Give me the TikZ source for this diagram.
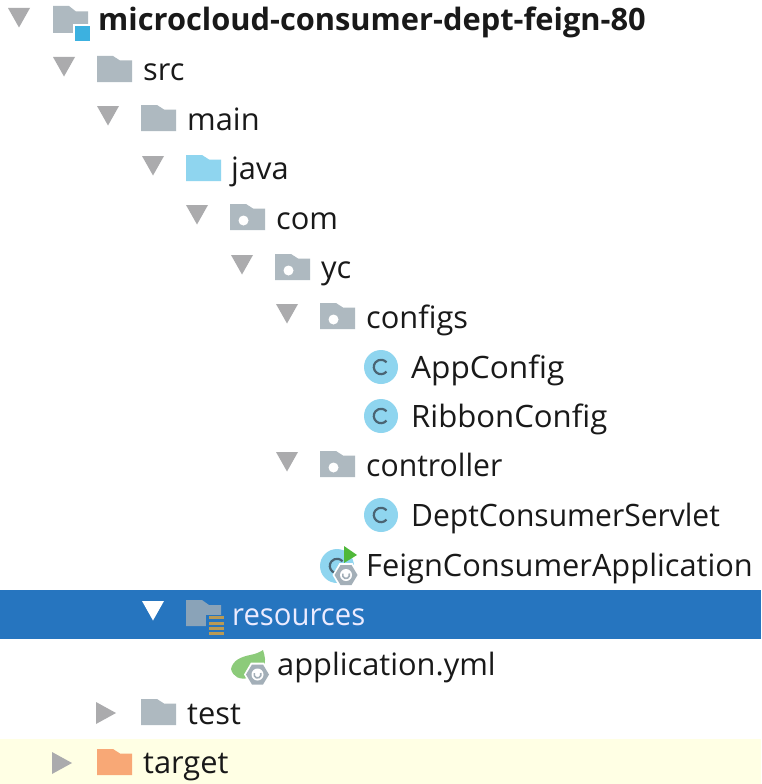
\documentclass[tikz,border=0pt]{standalone}
\usepackage{fontspec}
\setmainfont{Open Sans}
\definecolor{fgray}{HTML}{AEB9C0}
\definecolor{fblue}{HTML}{8FD5EF}
\definecolor{forange}{HTML}{F8A876}
\definecolor{ftri}{HTML}{ABABAD}
\definecolor{selband}{HTML}{2675BF}
\definecolor{hintband}{HTML}{FFFFE4}
\definecolor{roota}{HTML}{3CB1E0}
\definecolor{cdark}{HTML}{4A6473}
\definecolor{leaf}{HTML}{8CCB7A}
\definecolor{gear}{HTML}{A3AFB8}
\definecolor{playg}{HTML}{4FB83A}
\definecolor{resbar}{HTML}{B89A56}
\definecolor{selfold}{HTML}{8AA3B8}
\tikzset{
 lab/.style={anchor=base west,inner sep=0pt,yshift=-1pt,font=\fontsize{30.8pt}{36pt}\selectfont,text=black!90},
}
\newcommand{\sx}[2]{\scalebox{#1}[1]{#2}}
% #1 x left, #2 row centre, #3 colour
\newcommand{\fold}[3]{\fill[#3] (#1,#2-14) -- (#1+16,#2-14) -- (#1+23,#2-9.5) -- (#1+35,#2-9.5) -- (#1+35,#2+12) -- (#1,#2+12) -- cycle;}
\newcommand{\pkg}[2]{\fold{#1}{#2}{fgray}\fill[white] (#1+13.5,#2+2.5) circle (5);}
\newcommand{\tdown}[3][ftri]{\fill[#1] (#2-11,#3-13) -- (#2+11,#3-13) -- (#2,#3+6.5) -- cycle;}
\newcommand{\tright}[2]{\fill[ftri] (#1-10,#2-11) -- (#1+10,#2) -- (#1-10,#2+11) -- cycle;}
\newcommand{\cls}[2]{\fill[fblue] (#1,#2) circle (17);\draw[cdark,line width=2.2] ({#1+5.5},{#2+4.6}) arc[start angle=40,end angle=320,radius=7.2];}
\newcommand{\geargl}[2]{\fill[white] (#1-13.5,#2) -- (#1-6.5,#2-12) -- (#1+6.5,#2-12) -- (#1+13.5,#2) -- (#1+6.5,#2+12) -- (#1-6.5,#2+12) -- cycle;
 \fill[gear] (#1-11.5,#2) -- (#1-5.5,#2-10) -- (#1+5.5,#2-10) -- (#1+11.5,#2) -- (#1+5.5,#2+10) -- (#1-5.5,#2+10) -- cycle;
 \fill[white] (#1,#2) circle (6);\draw[gear,line width=1.6] (#1+3.2,#2-1.5) arc[start angle=-25,end angle=205,radius=3.5];}
\begin{document}
\begin{tikzpicture}[x=1pt,y=-1pt]
\useasboundingbox (0,0) rectangle (761,784);
\fill[white] (0,0) rectangle (761,784);
\fill[selband] (0,590) rectangle (761,639);
\fill[hintband] (0,739) rectangle (761,784);
% root
\tdown{19}{21}
\fill[fgray] (53,6) -- (69,6) -- (76,11.5) -- (88,11.5) -- (88,33) -- (53,33) -- cycle;
\fill[white] (73,24) rectangle (92,42);
\fill[roota] (75,26) rectangle (90,41);
\node[lab,font=\fontsize{30.8pt}{36pt}\bfseries\selectfont] (root) at (98,30) {microcloud-consumer-dept-feign-80};
% src
\tdown{64}{70}\fold{97}{70}{fgray}
\node[lab] (src) at (143,80) {src};
% main
\tdown{108}{119}\fold{141}{119}{fgray}
\node[lab] (main) at (187,129) {main};
% java
\tdown{153}{169}\fold{186}{169}{fblue}
\node[lab] (java) at (231,178) {java};
% com
\tdown{197}{218}\pkg{230}{218}
\node[lab] (com) at (276,228) {com};
% yc
\tdown{242}{268}\pkg{275}{268}
\node[lab] (yc) at (321,277) {yc};
% configs
\tdown{287}{317}\pkg{320}{317}
\node[lab] (configs) at (366,327) {configs};
\cls{381}{367}
\node[lab] (appconfig) at (411,377) {\sx{1.026}{AppConfig}};
\cls{381}{416}
\node[lab] (ribbon) at (411,426) {\sx{1.01}{RibbonConfig}};
% controller
\tdown{287}{465}\pkg{320}{465}
\node[lab] (controller) at (366,475) {\sx{0.98}{controller}};
\cls{381}{515}
\node[lab] (servlet) at (411,525) {\sx{0.975}{DeptConsumerServlet}};
% application class
\cls{337}{566}
\fill[playg] (344,546) -- (357,555) -- (344,563) -- cycle;
\geargl{346}{575}
\node[lab] (feign) at (366,575) {FeignConsumerApplication};
% resources
\tdown[white]{153}{614}
\fill[selfold] (186,600) -- (202,600) -- (209,605) -- (221,605) -- (221,626) -- (186,626) -- cycle;
\fill[selband] (206,615) rectangle (226,636);
\foreach \yy in {618,623.5,629,634}{\fill[resbar] (208.5,\yy-1.8) rectangle (223.5,\yy+1.3);}
\node[lab,text=white!92!blue] (resources) at (232,624) {\sx{0.95}{resources}};
% yml
\fill[leaf] (231,669) .. controls (233,660) and (241,657) .. (250,655) .. controls (256,654) and (260,652) .. (263,650) .. controls (265,656) and (266,662) .. (264,668) -- (248,678) .. controls (240,680) and (233,677) .. (231,669) -- cycle;
\geargl{257.5}{674.5}
\node[lab] (yml) at (277,674) {application.yml};
% test
\tright{106}{713}\fold{141}{713}{fgray}
\node[lab] (test) at (187,723) {test};
% target
\tright{62}{763}\fold{97}{763}{forange}
\node[lab] (target) at (143,772) {target};
\end{tikzpicture}
\end{document}
